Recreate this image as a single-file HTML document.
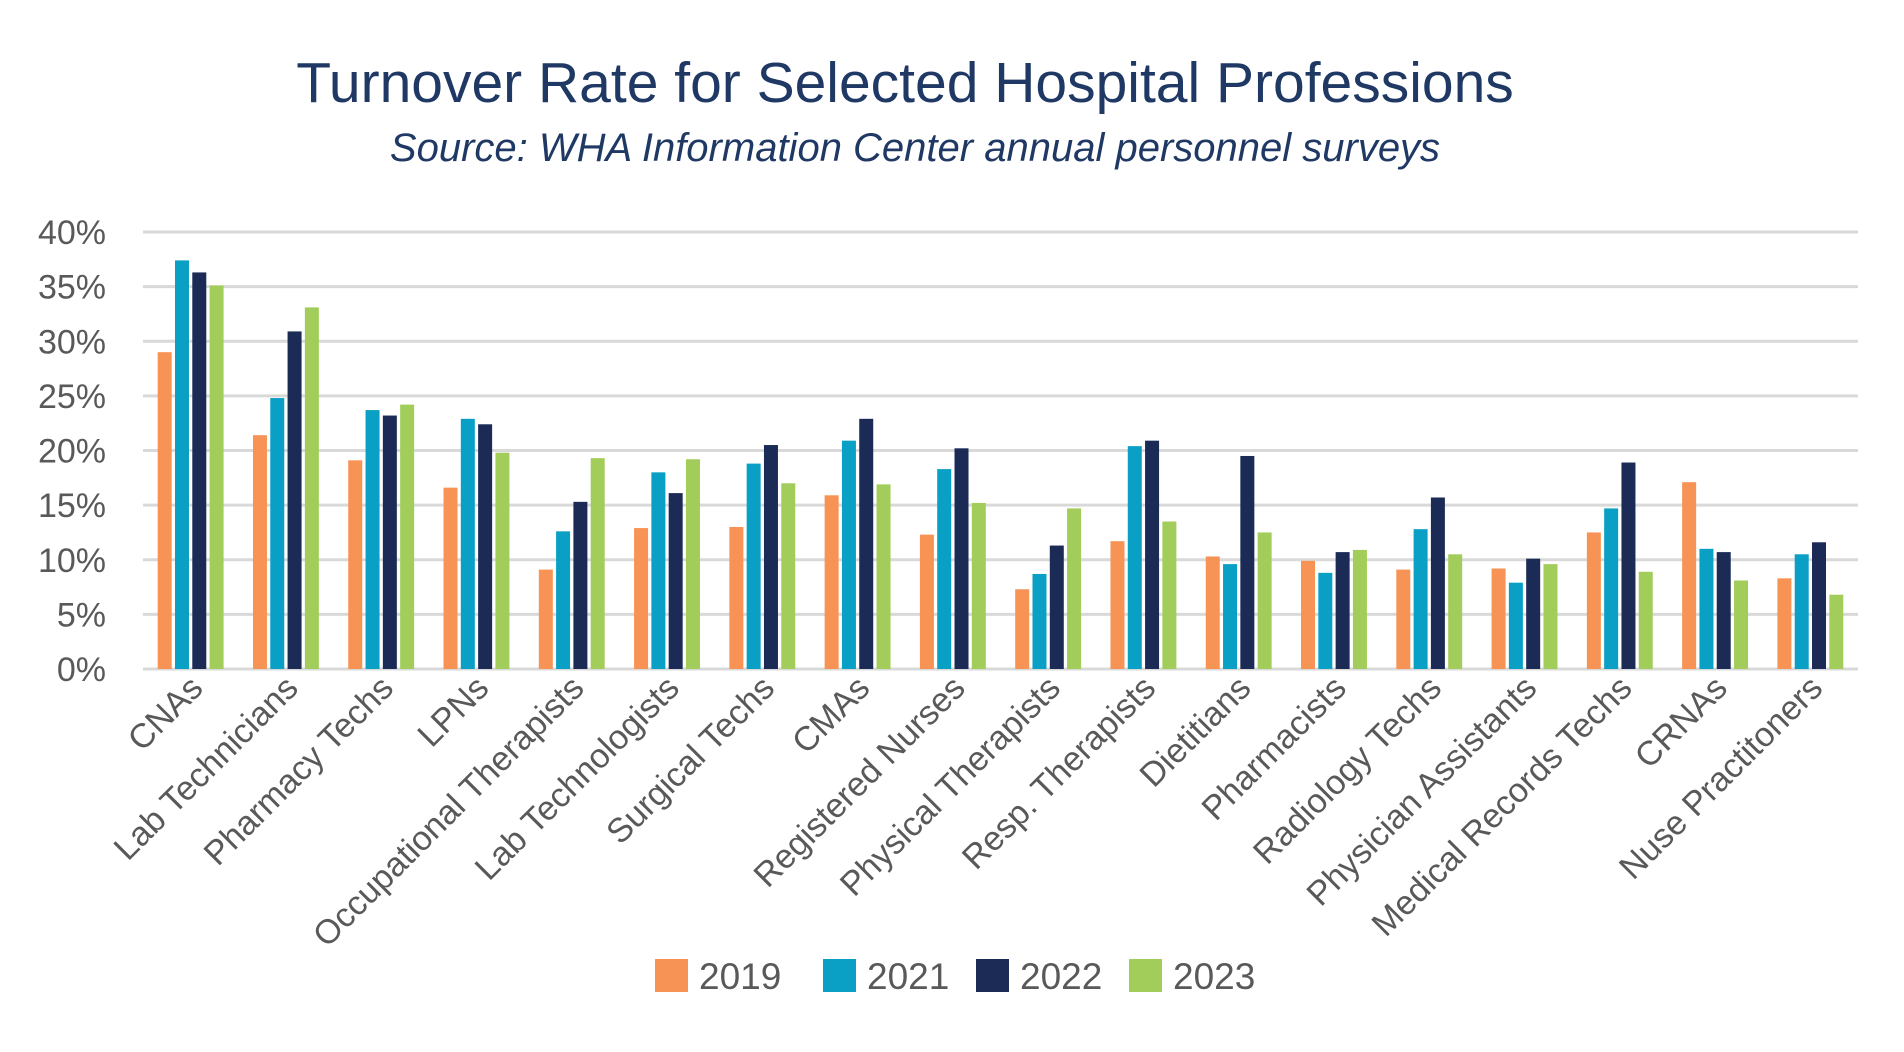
<!DOCTYPE html>
<html><head><meta charset="utf-8"><style>
body{margin:0;background:#fff;}
svg{display:block;font-family:"Liberation Sans","DejaVu Sans",sans-serif;}
</style></head><body>
<svg id="chart" width="1904" height="1052" viewBox="0 0 1904 1052">
<text x="905" y="102" text-anchor="middle" font-size="57" fill="#1f3864">Turnover Rate for Selected Hospital Professions</text>
<text x="915" y="161" text-anchor="middle" font-size="40" font-style="italic" fill="#1f3864">Source: WHA Information Center annual personnel surveys</text>
<g id="grid"></g><g id="bars"></g><g id="xl"></g><g id="legend"></g>
</svg>
<script>
const categories=["CNAs","Lab Technicians","Pharmacy Techs","LPNs","Occupational Therapists","Lab Technologists","Surgical Techs","CMAs","Registered Nurses","Physical Therapists","Resp. Therapists","Dietitians","Pharmacists","Radiology Techs","Physician Assistants","Medical Records Techs","CRNAs","Nuse Practitoners"];
const s2019=[29,21.4,19.1,16.6,9.1,12.9,13.0,15.9,12.3,7.3,11.7,10.3,9.9,9.1,9.2,12.5,17.1,8.3];
const s2021=[37.4,24.8,23.7,22.9,12.6,18.0,18.8,20.9,18.3,8.7,20.4,9.6,8.8,12.8,7.9,14.7,11.0,10.5];
const s2022=[36.3,30.9,23.2,22.4,15.3,16.1,20.5,22.9,20.2,11.3,20.9,19.5,10.7,15.7,10.1,18.9,10.7,11.6];
const s2023=[35.1,33.1,24.2,19.8,19.3,19.2,17.0,16.9,15.2,14.7,13.5,12.5,10.9,10.5,9.6,8.9,8.1,6.8];
const seriesNames=["2019","2021","2022","2023"];
const yTicks=[0,5,10,15,20,25,30,35,40];
const colors=["#f79355","#0a9fc4","#1b2b56","#a2cd5a"];
const NS="http://www.w3.org/2000/svg";
const L=143,R=1858,T=232,B=669;
const y=v=>B-(v/40)*(B-T);
const step=(R-L)/categories.length;
const xc=i=>L+step*(i+0.5);
function mk(t,a,p){const e=document.createElementNS(NS,t);for(const k in a)e.setAttribute(k,a[k]);p.appendChild(e);return e;}
const grid=document.getElementById('grid');
yTicks.forEach(v=>{
 const ln=mk('line',{x1:L,x2:R,y1:y(v),y2:y(v),stroke:'#d9d9d9','stroke-width':3},grid);
 
 
 const t=mk('text',{x:106,y:y(v)+12,'text-anchor':'end','font-size':34,fill:'#595959'},grid);
 t.textContent=v+'%';
 
 
});
const bars=document.getElementById('bars');
const all=[s2019,s2021,s2022,s2023];
const bw=14,pitch=17.3;
categories.forEach((c,i)=>{
 all.forEach((s,j)=>{
  const x=xc(i)-2*pitch+j*pitch+(pitch-bw)/2;
  const r=mk('rect',{x:x,y:y(s[i]),width:bw,height:B-y(s[i]),fill:colors[j]},bars);
  
  
 });
 const t=mk('text',{'text-anchor':'end','font-size':34,fill:'#595959',transform:`translate(${xc(i)+14},${690}) rotate(-45)`},document.getElementById('xl'));
 t.textContent=c;
 
 
});
const lg=document.getElementById('legend');
const lx=[655,823,976,1129];
seriesNames.forEach((n,j)=>{
 const r=mk('rect',{x:lx[j],y:959,width:33,height:33,fill:colors[j]},lg);
 
 
 const t=mk('text',{x:lx[j]+44,y:989,'font-size':37,fill:'#595959'},lg);
 t.textContent=n;
 
 
});
</script>
</body></html>
